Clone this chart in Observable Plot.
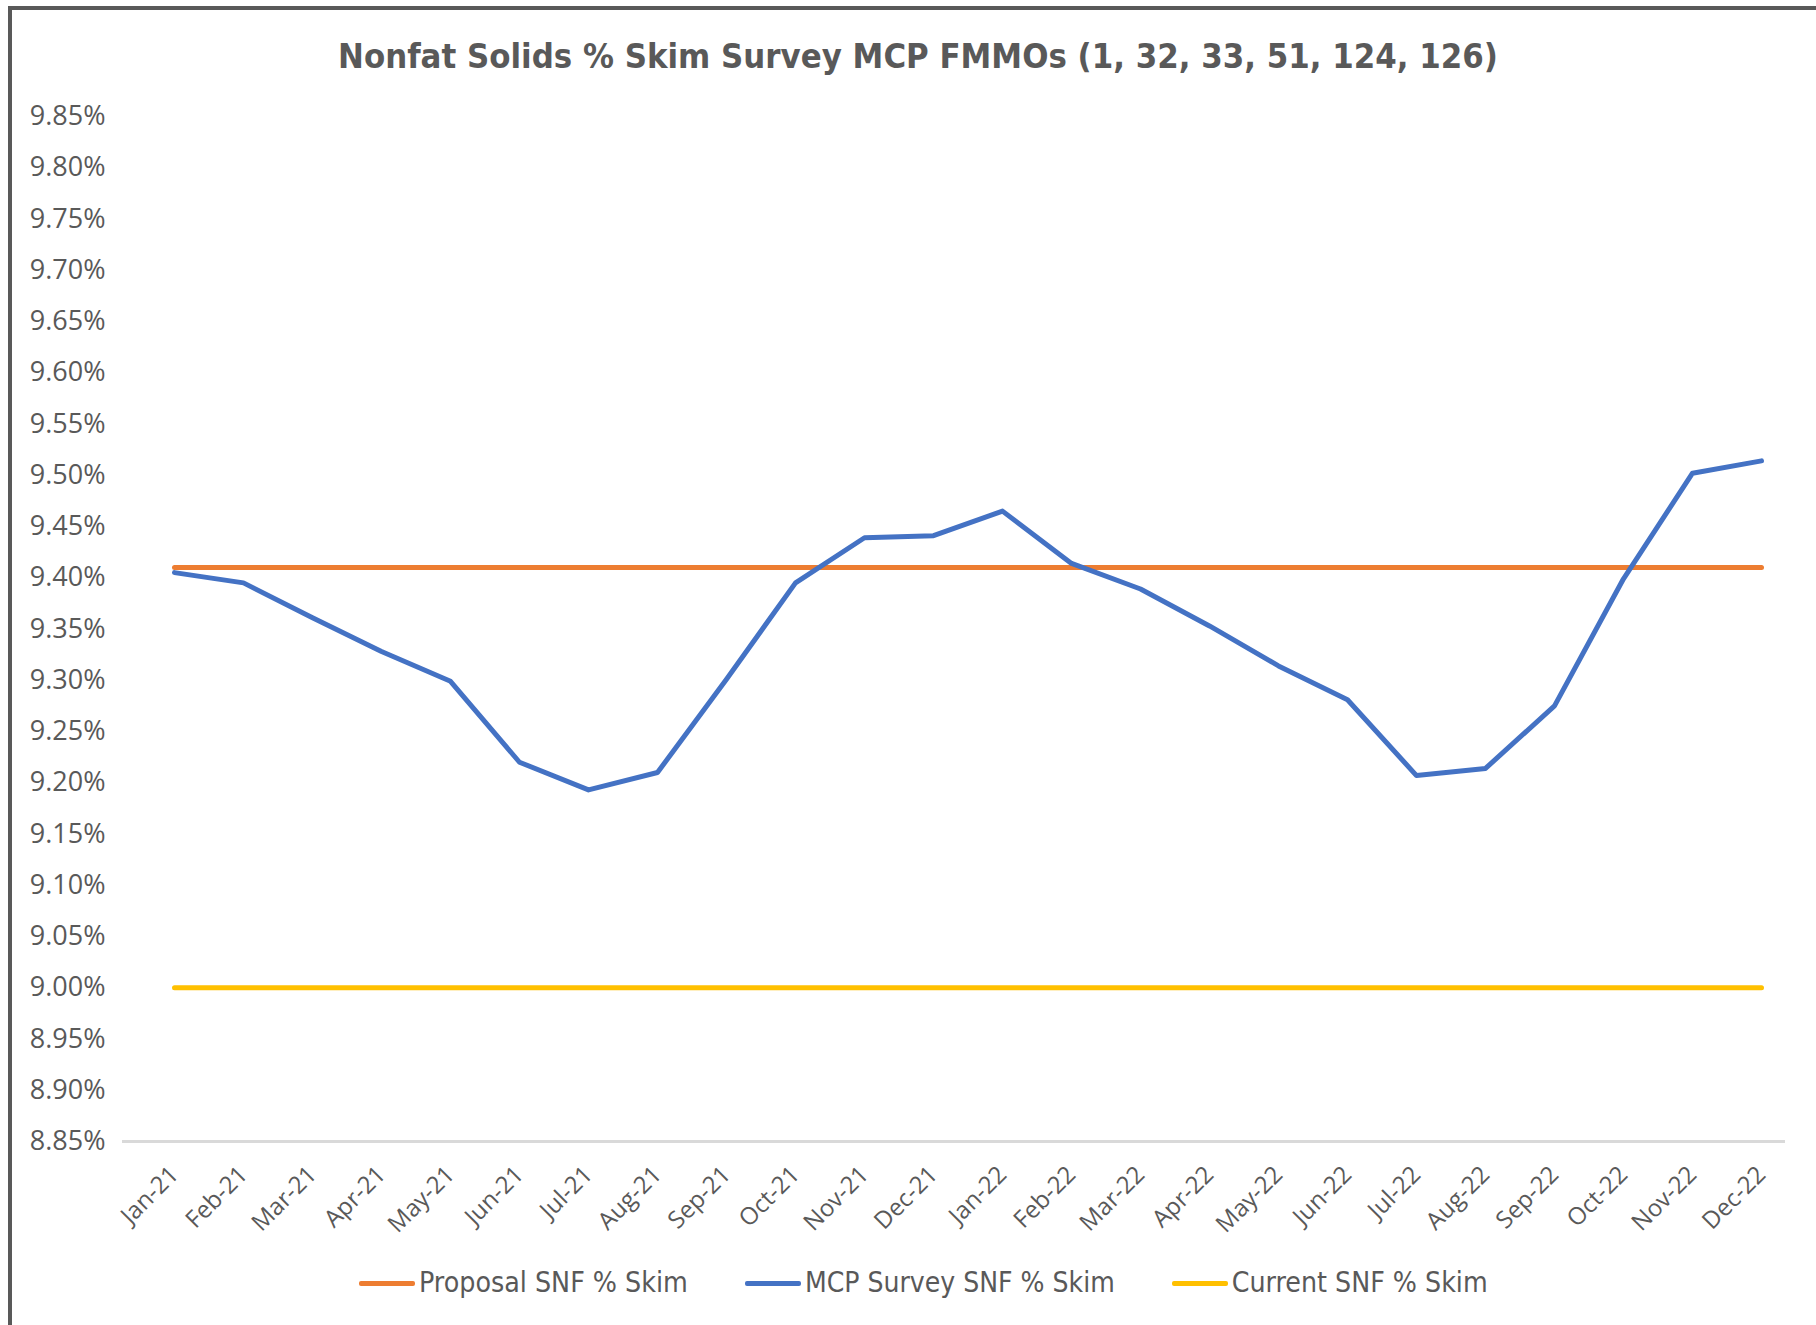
<!DOCTYPE html>
<html>
<head>
<meta charset="utf-8">
<script src="https://cdn.jsdelivr.net/npm/d3@7"></script>
<script src="https://cdn.jsdelivr.net/npm/@observablehq/plot@0.6"></script>
<style>
  html, body { margin: 0; padding: 0; background: #fff; }
  #wrap { position: relative; width: 1816px; height: 1325px; overflow: hidden; background: #fff; }
  .bar { position: absolute; background: #595959; }
  #title { position: absolute; left: 0; top: 26px; width: 1836px; height: 60px; line-height: 60px; text-align: center;
           font-family: "Liberation Sans Narrow", "DejaVu Sans Condensed", "Open Sans", sans-serif; font-weight: bold; color: #595959; white-space: nowrap; }
  #title span { display: inline-block; }
  #chart { position: absolute; left: 0; top: 90px; }
  #legend { position: absolute; left: 359px; top: 1263px; height: 40px; display: flex; align-items: center;
            font-family: "Liberation Sans Narrow", "DejaVu Sans Condensed", "Open Sans", sans-serif; color: #595959; white-space: nowrap; }
  .item { display: flex; align-items: center; margin-right: 57px; }
  .sw { width: 56px; height: 5px; border-radius: 2px; margin-right: 4px; }
  .lt { display: inline-block; line-height: 40px; }
</style>
</head>
<body>
<div id="wrap">
  <div class="bar" style="left:8px; top:6px; width:4px; height:1325px;"></div>
  <div class="bar" style="left:8px; top:6px; width:1808px; height:4px;"></div>
  <div id="title"><span id="titleText">Nonfat Solids % Skim Survey MCP FMMOs (1, 32, 33, 51, 124, 126)</span></div>
  <div id="chart"></div>
  <div id="legend"></div>
</div>
<script>
// ---- data ----
const months = ["Jan-21","Feb-21","Mar-21","Apr-21","May-21","Jun-21","Jul-21","Aug-21","Sep-21","Oct-21","Nov-21","Dec-21",
                "Jan-22","Feb-22","Mar-22","Apr-22","May-22","Jun-22","Jul-22","Aug-22","Sep-22","Oct-22","Nov-22","Dec-22"];
const mcpSurvey = [9.405, 9.395, 9.361, 9.328, 9.299, 9.220, 9.193, 9.210, 9.301, 9.395, 9.439, 9.441,
                   9.465, 9.414, 9.389, 9.353, 9.314, 9.281, 9.207, 9.214, 9.275, 9.399, 9.502, 9.514];
const proposalValue = 9.41;
const currentValue = 9.00;
const yTicks = [8.85, 8.90, 8.95, 9.00, 9.05, 9.10, 9.15, 9.20, 9.25, 9.30, 9.35, 9.40, 9.45, 9.50, 9.55, 9.60, 9.65, 9.70, 9.75, 9.80, 9.85];
const seriesNames = ["Proposal SNF % Skim", "MCP Survey SNF % Skim", "Current SNF % Skim"];
const seriesColors = ["#ED7D31", "#4472C4", "#FFC000"];

const mcpRows = months.map((m, i) => ({month: m, value: mcpSurvey[i]}));
const proposalRows = months.map(m => ({month: m, value: proposalValue}));
const currentRows = months.map(m => ({month: m, value: currentValue}));

const chart = Plot.plot({
  width: 1816,
  height: 1140,
  marginLeft: 167,
  marginRight: 48,
  marginTop: 26,
  marginBottom: 89,
  x: {type: "point", domain: months, padding: 0},
  y: {domain: [8.85, 9.85]},
  style: {fontFamily: "'Open Sans', sans-serif", fontSize: "26px", color: "#595959", background: "transparent", overflow: "visible"},
  marks: [
    Plot.ruleY([8.85], {stroke: "#d9d9d9", strokeWidth: 3, insetLeft: -45, insetRight: -17}),
    Plot.axisY({ticks: yTicks, tickFormat: d => d.toFixed(2) + "%", tickSize: 0, tickPadding: 62, label: null, fontSize: 27}),
    Plot.axisX({tickRotate: -45, tickSize: 0, tickPadding: 29, label: null, fontSize: 24}),
    Plot.lineY(proposalRows, {x: "month", y: "value", stroke: seriesColors[0], strokeWidth: 5, strokeLinecap: "round"}),
    Plot.lineY(mcpRows, {x: "month", y: "value", stroke: seriesColors[1], strokeWidth: 5, strokeLinecap: "round", strokeLinejoin: "round"}),
    Plot.lineY(currentRows, {x: "month", y: "value", stroke: seriesColors[2], strokeWidth: 5, strokeLinecap: "round"})
  ]
});
document.getElementById("chart").appendChild(chart);

// legend
const legend = document.getElementById("legend");
seriesNames.forEach((name, i) => {
  const item = document.createElement("div");
  item.className = "item";
  const sw = document.createElement("div");
  sw.className = "sw";
  sw.style.background = seriesColors[i];
  const t = document.createElement("span");
  t.className = "lt";
  t.textContent = name;
  item.appendChild(sw); item.appendChild(t);
  legend.appendChild(item);
});

// fit text widths to the reference
function fit(el, target) {
  el.style.fontSize = "30px";
  const w = el.getBoundingClientRect().width;
  el.style.fontSize = (30 * target / w).toFixed(2) + "px";
}
fit(document.getElementById("titleText"), 1160);
const lts = legend.querySelectorAll(".lt");
[269, 310, 256].forEach((w, i) => fit(lts[i], w));
</script>
</body>
</html>
